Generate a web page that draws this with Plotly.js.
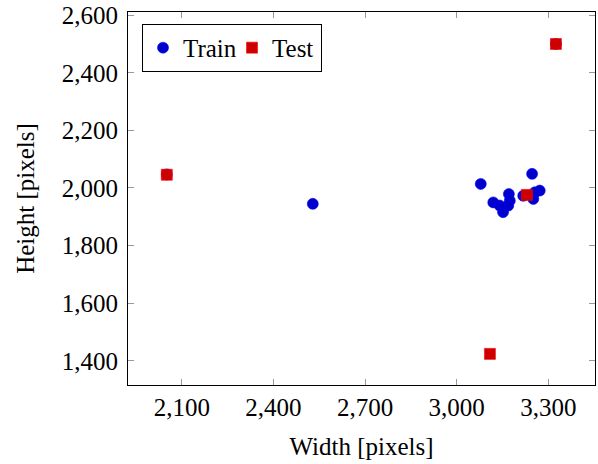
<!DOCTYPE html>
<html>
<head>
<meta charset="utf-8">
<script src="https://cdn.plot.ly/plotly-3.0.1.min.js"></script>
<style>html,body{margin:0;padding:0;background:#fff;}#chart{width:598px;height:464px;}</style>
</head>
<body>
<div id="chart"></div>
<script>
// Train set image sizes (width, height) in pixels
const trainWidth  = [2529, 3079, 3247, 3171, 3120, 3152, 3152, 3174, 3169, 3141, 3218, 3251, 3272, 3256, 2051, 3325];
const trainHeight = [1945, 2014, 2049, 1979, 1950, 1927, 1916, 1956, 1939, 1939, 1973, 1962, 1991, 1985, 2047, 2500];
// Test set image sizes
const testWidth  = [2051, 3325, 3109, 3230];
const testHeight = [2046, 2500, 1424, 1976];

const xTicks = [2100, 2400, 2700, 3000, 3300];
const yTicks = [1400, 1600, 1800, 2000, 2200, 2400, 2600];

const serif = "'Times New Roman', 'DejaVu Serif', serif";

const traces = [
  {
    type: 'scatter', mode: 'markers', name: 'Train',
    x: trainWidth, y: trainHeight,
    marker: {symbol: 'circle', size: 11, color: '#0000cc', line: {color: '#0000ff', width: 0.6}}
  },
  {
    type: 'scatter', mode: 'markers', name: 'Test',
    x: testWidth, y: testHeight,
    marker: {symbol: 'square', size: 11, color: '#cc0000', line: {color: '#ff0000', width: 0.6}}
  }
];

const axisCommon = {
  showgrid: false, zeroline: false,
  showline: true, linecolor: '#000', linewidth: 1, mirror: 'ticks',
  ticks: 'inside', ticklen: 6, tickcolor: '#999', tickwidth: 1,
  tickformat: ',d',
  tickfont: {family: serif, size: 25, color: '#000'}
};

const layout = {
  width: 598, height: 464,
  margin: {l: 128, r: 3, t: 12, b: 79},
  paper_bgcolor: '#fff', plot_bgcolor: '#fff',
  showlegend: true,
  font: {family: serif, color: '#000'},
  xaxis: Object.assign({}, axisCommon, {
    range: [1924, 3453], tickmode: 'array', tickvals: xTicks,
    title: {text: 'Width [pixels]', font: {family: serif, size: 25, color: '#000'}, standoff: 17}
  }),
  yaxis: Object.assign({}, axisCommon, {
    range: [1316, 2611], tickmode: 'array', tickvals: yTicks,
    ticklabelstandoff: 4,
    title: {text: 'Height [pixels]', font: {family: serif, size: 25, color: '#000'}, standoff: 20}
  }),
  legend: {
    orientation: 'h', x: 0.03, y: 0.968, xanchor: 'left', yanchor: 'top',
    bgcolor: '#fff', bordercolor: '#000', borderwidth: 1,
    font: {family: serif, size: 25, color: '#000'},
    itemwidth: 30, tracegroupgap: 0, entrywidth: 44
  }
};

Plotly.newPlot('chart', traces, layout, {displayModeBar: false, staticPlot: true});
</script>
</body>
</html>
